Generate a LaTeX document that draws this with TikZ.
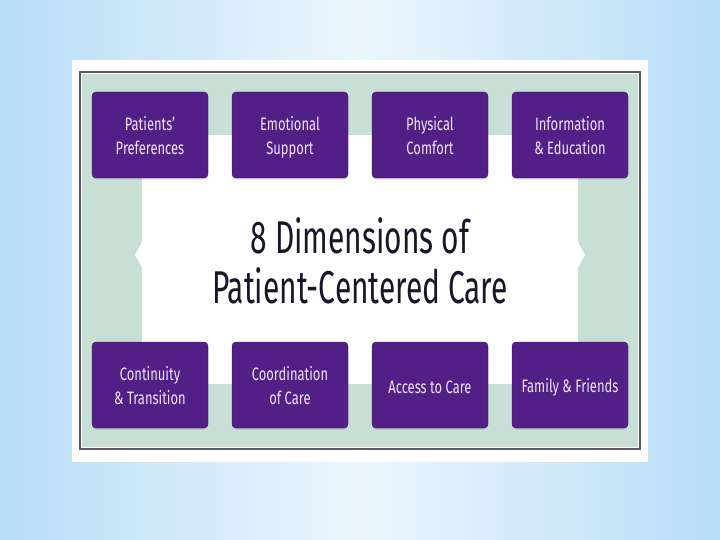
\documentclass[tikz,border=0pt]{standalone}
\usepackage{fontspec}
\usetikzlibrary{shadows}
\newfontfamily\boxfont[FakeStretch=0.72]{Fira Sans}
\newfontfamily\titlefont[FakeStretch=0.65]{Fira Sans}
\definecolor{slideblue}{RGB}{184,221,246}
\definecolor{slidelight}{RGB}{236,246,253}
\definecolor{framegray}{RGB}{90,90,95}
\definecolor{mint}{RGB}{199,223,213}
\definecolor{dimpurple}{RGB}{82,31,134}
\definecolor{dimtext}{RGB}{238,228,246}
\definecolor{titleink}{RGB}{24,22,40}
% box text, set a little low
\newcommand\dimlow[1]{\raisebox{0pt}[\dimexpr\height+5pt\relax][\depth]{#1}}
\newcommand\dimlines[2]{\dimlow{\begin{tabular}{@{}c@{}}#1\\#2\end{tabular}}}

\begin{document}
\begin{tikzpicture}[x=1pt,y=-1pt,
		dimbox/.style={draw=dimpurple!75!black, fill=dimpurple, rounded corners=4pt,
			minimum width=116pt, minimum height=86pt, inner sep=0pt,
			text=dimtext, font=\boxfont\fontsize{18}{24}\selectfont,
			drop shadow={opacity=0.35, shadow xshift=0pt, shadow yshift=-1.5pt}},
		titletext/.style={text=titleink, align=center, font=\titlefont\fontsize{46}{50}\selectfont}]
		\def\xa{150} \def\xb{290} \def\xc{430} \def\xd{570}
		\def\ytop{135} \def\ybot{385}
		% the slide
		\useasboundingbox (0,0) rectangle (720,540);
		\shade[left color=slideblue, right color=slideblue, middle color=slidelight] (0,0) rectangle (720,540);
		% the picture frame
		\fill[white] (72,60) rectangle (648,462);
		\fill[mint] (82,74) rectangle (638,447);
		\draw[framegray, line width=1.6pt] (80,72) rectangle (640,449);
		\fill[white] (142,135) rectangle (578,384);
		\fill[white] (142,242) -- (135,255) -- (142,268) -- cycle;
		\fill[white] (578,242) -- (585,255) -- (578,268) -- cycle;
		% the title
		\node[titletext] (title) at (360,261) {8 Dimensions of\\Patient-Centered Care};
		% top row
		\node[dimbox] (prefs)   at (\xa,\ytop) {\dimlines{Patients’}{Preferences}};
		\node[dimbox] (support) at (\xb,\ytop) {\dimlines{Emotional}{Support}};
		\node[dimbox] (comfort) at (\xc,\ytop) {\dimlines{Physical}{Comfort}};
		\node[dimbox] (info)    at (\xd,\ytop) {\dimlines{Information}{\& Education}};
		% bottom row
		\node[dimbox] (contin)  at (\xa,\ybot) {\dimlines{Continuity}{\& Transition}};
		\node[dimbox] (coord)   at (\xb,\ybot) {\dimlines{Coordination}{of Care}};
		\node[dimbox] (access)  at (\xc,\ybot) {\dimlow{Access to Care}};
		\node[dimbox] (family)  at (\xd,\ybot) {\dimlow{Family \& Friends}};
	\end{tikzpicture}
\end{document}
